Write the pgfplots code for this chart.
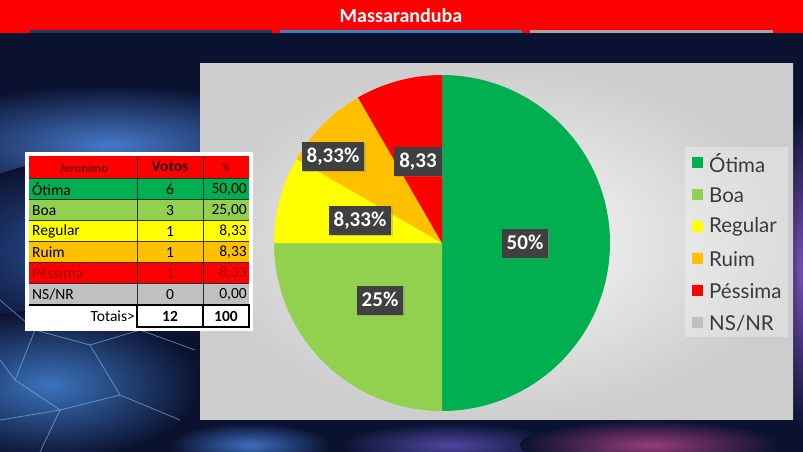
\documentclass[border=0pt]{standalone}
\usepackage{fontspec}
\setmainfont{Carlito}
\newfontfamily\legfont{Lato}
\usepackage{pgfplots}
\pgfplotsset{compat=1.18}
\usetikzlibrary{shadows}
\definecolor{navy}{HTML}{0B1230}
\definecolor{titlered}{HTML}{FF0000}
\definecolor{cOt}{HTML}{00B050}
\definecolor{cBo}{HTML}{92D050}
\definecolor{cRe}{HTML}{FFFF00}
\definecolor{cRu}{HTML}{FFC000}
\definecolor{cPe}{HTML}{FF0000}
\definecolor{cNs}{HTML}{C0C0C0}
\definecolor{labbg}{HTML}{404040}
\definecolor{darkred}{HTML}{7A0000}
\definecolor{pesred}{HTML}{A00000}
\definecolor{votc}{HTML}{320000}
\definecolor{legtxt}{HTML}{3A3A3A}
\definecolor{gridc}{HTML}{303030}
\definecolor{lineA}{RGB}{31,56,100}
\definecolor{lineB}{RGB}{60,130,190}
\definecolor{lineC}{RGB}{165,165,165}
\definecolor{glowA}{RGB}{70,120,200}
\definecolor{glowB}{RGB}{60,115,190}
\definecolor{glowC}{RGB}{45,85,160}
\definecolor{glowD}{RGB}{60,110,190}
\definecolor{glowE}{RGB}{80,70,160}
\definecolor{glowF}{RGB}{150,60,120}
\definecolor{glowG}{RGB}{120,80,180}
\definecolor{netc}{RGB}{150,200,255}
\definecolor{areain}{RGB}{250,250,250}
\definecolor{areaout}{RGB}{205,205,205}

% votes
\def\vOt{6}\def\vBo{3}\def\vRe{1}\def\vRu{1}\def\vPe{1}\def\vNs{0}
\pgfmathsetmacro\tot{\vOt+\vBo+\vRe+\vRu+\vPe+\vNs}
\pgfmathsetmacro\aA{90}
\pgfmathsetmacro\aB{\aA-360*\vOt/\tot}
\pgfmathsetmacro\aC{\aB-360*\vBo/\tot}
\pgfmathsetmacro\aD{\aC-360*\vRe/\tot}
\pgfmathsetmacro\aE{\aD-360*\vRu/\tot}
\pgfmathsetmacro\aF{\aE-360*\vPe/\tot}
\def\cx{442}\def\cy{243}\def\rr{168}

\begin{document}
\begin{tikzpicture}
\begin{scope}[shift={(0pt,452pt)}, x=1pt, y=-1pt]
  \useasboundingbox (0,0) rectangle (803,452);
  \clip (0,0) rectangle (803,452);
  \fill[navy] (0,0) rectangle (803,452);
  % background glows
  \shade[inner color=glowA, outer color=navy] (110,145) ellipse (210 and 60);
  \shade[inner color=glowC, outer color=navy] (80,250) ellipse (150 and 90);
  \shade[inner color=glowB, outer color=navy] (50,385) ellipse (150 and 75);
  \shade[inner color=glowD, outer color=navy] (250,445) ellipse (80 and 22);
  \shade[inner color=glowE, outer color=navy] (450,445) ellipse (110 and 22);
  \shade[inner color=glowF, outer color=navy] (650,445) ellipse (130 and 25);
  \shade[inner color=glowG, outer color=navy] (800,270) ellipse (18 and 160);
  % network lines
  \begin{scope}[draw=netc, line width=0.8pt, opacity=0.55]
    \draw (0,300) -- (35,330) -- (15,380) -- (60,410) -- (120,395) -- (180,420);
    \draw (35,330) -- (90,345) -- (120,395);
    \draw (0,360) -- (15,380);
    \draw (90,345) -- (140,330) -- (195,350);
    \draw (60,410) -- (40,452);
    \draw (0,420) -- (60,410);
  \end{scope}
  % title bar
  \fill[titlered] (0,0) rectangle (803,33);
  \fill[lineA] (30,30) rectangle (272,33);
  \fill[lineB] (280,30) rectangle (522,33);
  \fill[lineC] (530,30) rectangle (773,33);
  \node[text=white, font=\bfseries\fontsize{20}{22}\selectfont] at (401,16) {Massaranduba};
  % chart area
  \shade[inner color=areain, outer color=areaout] (200,64) rectangle (793,420);
\end{scope}

\begin{axis}[
  scale only axis, width=803pt, height=452pt,
  xmin=0, xmax=803, ymin=0, ymax=452, y dir=reverse,
  hide axis, clip=false]
  \addplot[fill=cOt, draw=none, domain=\aB:\aA, samples=90] ({\cx+\rr*cos(x)},{\cy-\rr*sin(x)}) -- (axis cs:\cx,\cy) -- cycle;
  \addplot[fill=cBo, draw=none, domain=\aC:\aB, samples=60] ({\cx+\rr*cos(x)},{\cy-\rr*sin(x)}) -- (axis cs:\cx,\cy) -- cycle;
  \addplot[fill=cRe, draw=none, domain=\aD:\aC, samples=30] ({\cx+\rr*cos(x)},{\cy-\rr*sin(x)}) -- (axis cs:\cx,\cy) -- cycle;
  \addplot[fill=cRu, draw=none, domain=\aE:\aD, samples=30] ({\cx+\rr*cos(x)},{\cy-\rr*sin(x)}) -- (axis cs:\cx,\cy) -- cycle;
  \addplot[fill=cPe, draw=none, domain=\aF:\aE, samples=30] ({\cx+\rr*cos(x)},{\cy-\rr*sin(x)}) -- (axis cs:\cx,\cy) -- cycle;
  \tikzset{lab/.style={fill=labbg, text=white, font=\bfseries\fontsize{21}{21}\selectfont,
     inner xsep=5pt, inner ysep=0pt, text height=15pt, text depth=3pt, minimum height=29pt,
     drop shadow={opacity=0.35, shadow xshift=1.5pt, shadow yshift=-1.5pt}}}
  \node[lab] at (axis cs:525,243) {50\%};
  \node[lab] at (axis cs:380,300) {25\%};
  \node[lab] at (axis cs:360,220) {8,33\%};
  \node[lab] at (axis cs:333,156) {8,33\%};
  \node[lab] at (axis cs:418,161) {8,33};
\end{axis}

\begin{scope}[shift={(0pt,452pt)}, x=1pt, y=-1pt]
  % legend
  \fill[white, opacity=0.3] (685,147) rectangle (788,337);
  \foreach \yy/\cc/\tt in {163/cOt/Ótima,195/cBo/Boa,227/cRe/Regular,259/cRu/Ruim,291/cPe/Péssima,323/cNs/NS\slash NR}{
    \fill[\cc] (692,\yy-5.5) rectangle (703,\yy+5.5);
    \node[anchor=west, text=legtxt, font=\legfont\fontsize{20.5}{21}\selectfont, inner sep=0pt] at (709,\yy) {\tt};
  }
  % table
  \fill[white] (25,152) rectangle (253,331);
  \fill[titlered] (29,156) rectangle (249,179);
  \fill[cOt] (29,179) rectangle (249,200);
  \fill[cBo] (29,200) rectangle (249,221);
  \fill[cRe] (29,221) rectangle (249,242);
  \fill[cRu] (29,242) rectangle (249,263);
  \fill[cPe] (29,263) rectangle (249,284);
  \fill[cNs] (29,284) rectangle (249,305);
  \foreach \yy in {179,200,221,242,263,284} \draw[gridc, line width=1pt] (29,\yy) -- (249,\yy);
  \draw[black, line width=1.5pt] (29,305) -- (249,305);
  \draw[gridc, line width=1pt] (137,156) -- (137,305);
  \draw[gridc, line width=1pt] (203,156) -- (203,305);
  \draw[black, line width=1.5pt] (137,305) rectangle (249,327);
  \draw[black, line width=1.5pt] (203,305) -- (203,327);
  \node[font=\bfseries\fontsize{12.5}{13}\selectfont, text=darkred] at (84,168) {Jeronimo};
  \node[font=\bfseries\fontsize{15.5}{16}\selectfont, text=votc] at (170,167) {Votos};
  \node[font=\bfseries\fontsize{11.5}{12}\selectfont, text=darkred] at (226,168) {\%};
  \foreach \yy/\ll/\vv/\pp/\tc in {189.5/Ótima/6/{50,00}/black, 210.5/Boa/3/{25,00}/black, 231.5/Regular/1/{8,33}/black, 252.5/Ruim/1/{8,33}/black, 273.5/Péssima/1/{8,33}/pesred, 294.5/NS\slash NR/0/{0,00}/black}{
    \node[anchor=west, font=\fontsize{15.5}{16}\selectfont, text=\tc, inner sep=0pt] at (32,\yy) {\ll};
    \node[font=\fontsize{15.5}{16}\selectfont, text=\tc, inner sep=0pt] at (170,\yy) {\vv};
    \node[anchor=east, font=\fontsize{15.5}{16}\selectfont, text=\tc, inner sep=0pt] at (247,\yy) {\pp};
  }
  \node[anchor=east, font=\fontsize{15.5}{16}\selectfont, inner sep=0pt] at (135,316) {Totais>};
  \node[font=\bfseries\fontsize{15.5}{16}\selectfont, inner sep=0pt] at (170,316) {12};
  \node[font=\bfseries\fontsize{15.5}{16}\selectfont, inner sep=0pt] at (226,316) {100};
\end{scope}
\end{tikzpicture}
\end{document}
